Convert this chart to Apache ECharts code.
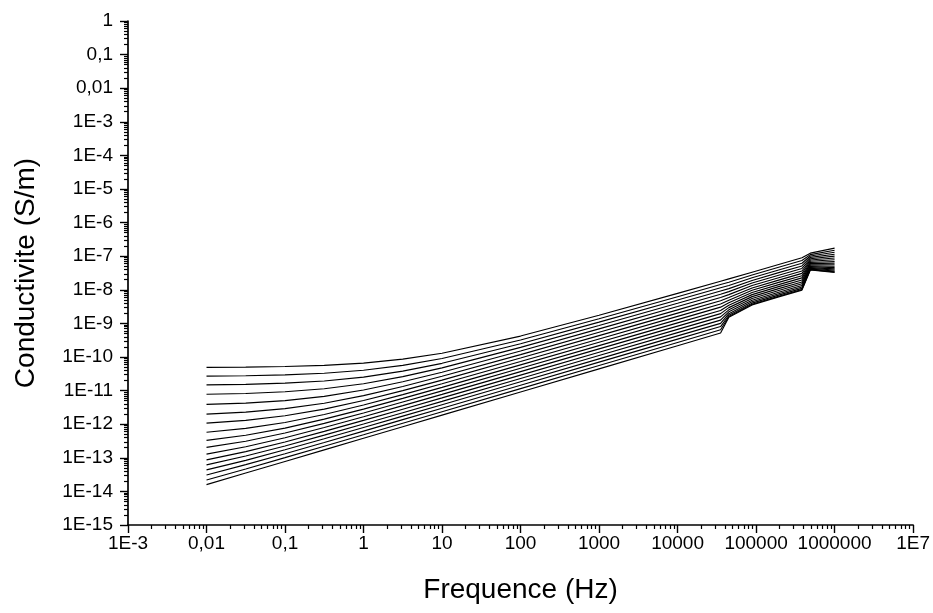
<!DOCTYPE html>
<html>
<head>
<meta charset="utf-8">
<script src="https://cdn.jsdelivr.net/npm/echarts@6/dist/echarts.min.js"></script>
<style>
  html, body { margin: 0; padding: 0; background: #fff; }
  #chart { width: 933px; height: 613px; }
</style>
</head>
<body>
<div id="chart"></div>
<script>
// Frequencies (Hz) at which the curves are read
const frequencies = [0.01, 0.0316, 0.1, 0.316, 1, 3.16, 10, 100, 1000, 10000, 35300, 45000, 89000, 194000, 384000, 491000, 1000000];

// Conductivity curves, stored as log10(S/m), top curve first
const curve01 = [-10.310, -10.301, -10.284, -10.248, -10.181, -10.065, -9.888, -9.377, -8.758, -8.107, -7.747, -7.676, -7.476, -7.247, -7.047, -6.910, -6.760];
const curve02 = [-10.570, -10.558, -10.533, -10.485, -10.395, -10.250, -10.044, -9.494, -8.861, -8.205, -7.844, -7.775, -7.560, -7.330, -7.130, -6.953, -6.822];
const curve03 = [-10.830, -10.813, -10.779, -10.713, -10.598, -10.422, -10.188, -9.606, -8.962, -8.303, -7.940, -7.871, -7.642, -7.411, -7.211, -6.995, -6.883];
const curve04 = [-11.110, -11.085, -11.035, -10.944, -10.796, -10.585, -10.324, -9.715, -9.062, -8.401, -8.036, -7.965, -7.722, -7.490, -7.290, -7.036, -6.942];
const curve05 = [-11.410, -11.371, -11.297, -11.172, -10.983, -10.738, -10.453, -9.822, -9.163, -8.498, -8.133, -8.055, -7.799, -7.566, -7.366, -7.076, -6.999];
const curve06 = [-11.700, -11.642, -11.538, -11.375, -11.149, -10.877, -10.574, -9.928, -9.264, -8.596, -8.229, -8.143, -7.874, -7.640, -7.440, -7.114, -7.054];
const curve07 = [-11.970, -11.888, -11.750, -11.550, -11.294, -11.002, -10.687, -10.031, -9.363, -8.693, -8.325, -8.228, -7.946, -7.711, -7.511, -7.151, -7.107];
const curve08 = [-12.240, -12.126, -11.948, -11.711, -11.429, -11.120, -10.797, -10.134, -9.463, -8.790, -8.421, -8.309, -8.015, -7.780, -7.580, -7.187, -7.158];
const curve09 = [-12.480, -12.330, -12.116, -11.850, -11.551, -11.232, -10.903, -10.235, -9.561, -8.887, -8.517, -8.387, -8.081, -7.845, -7.645, -7.221, -7.207];
const curve10 = [-12.690, -12.506, -12.263, -11.977, -11.665, -11.339, -11.007, -10.335, -9.660, -8.984, -8.614, -8.460, -8.144, -7.907, -7.707, -7.253, -7.254];
const curve11 = [-12.890, -12.672, -12.403, -12.099, -11.778, -11.447, -11.112, -10.436, -9.759, -9.081, -8.709, -8.530, -8.203, -7.966, -7.766, -7.283, -7.298];
const curve12 = [-13.060, -12.816, -12.529, -12.215, -11.887, -11.553, -11.216, -10.538, -9.858, -9.178, -8.805, -8.596, -8.259, -8.021, -7.821, -7.312, -7.339];
const curve13 = [-13.210, -12.947, -12.647, -12.326, -11.995, -11.658, -11.320, -10.639, -9.957, -9.275, -8.901, -8.656, -8.310, -8.072, -7.872, -7.338, -7.377];
const curve14 = [-13.360, -13.075, -12.762, -12.434, -12.099, -11.760, -11.420, -10.738, -10.055, -9.372, -8.998, -8.710, -8.357, -8.118, -7.918, -7.362, -7.411];
const curve15 = [-13.511, -13.204, -12.879, -12.545, -12.206, -11.865, -11.524, -10.839, -10.154, -9.469, -9.094, -8.758, -8.397, -8.158, -7.958, -7.383, -7.441];
const curve16 = [-13.660, -13.332, -12.996, -12.656, -12.314, -11.971, -11.628, -10.941, -10.254, -9.567, -9.191, -8.796, -8.430, -8.190, -7.990, -7.400, -7.465];
const curve17 = [-13.798, -13.454, -13.109, -12.765, -12.420, -12.076, -11.731, -11.042, -10.353, -9.664, -9.286, -8.820, -8.450, -8.210, -8.010, -7.410, -7.480];

const curves = [curve01, curve02, curve03, curve04, curve05, curve06, curve07, curve08, curve09,
                curve10, curve11, curve12, curve13, curve14, curve15, curve16, curve17];

// Tick labels (one per decade, from the axis minimum upward)
const xTickLabels = ['1E-3', '0,01', '0,1', '1', '10', '100', '1000', '10000', '100000', '1000000', '1E7'];
const yTickLabels = ['1E-15', '1E-14', '1E-13', '1E-12', '1E-11', '1E-10', '1E-9', '1E-8', '1E-7', '1E-6', '1E-5', '1E-4', '1E-3', '0,01', '0,1', '1'];
const X_MIN_EXP = -3, X_MAX_EXP = 7;
const Y_MIN_EXP = -15, Y_MAX_EXP = 0;

const xTitle = 'Frequence (Hz)';
const yTitle = 'Conductivite (S/m)';

// minor tick positions (2..9 within each decade)
function minorTicks(lowExp, highExp) {
  const out = [];
  for (let e = lowExp; e < highExp; e++) {
    for (let m = 2; m <= 9; m++) out.push(m * Math.pow(10, e));
  }
  return out;
}
function majorTicks(lowExp, highExp) {
  const out = [];
  for (let e = lowExp; e <= highExp; e++) out.push(Math.pow(10, e));
  return out;
}
const xMinor = minorTicks(X_MIN_EXP, X_MAX_EXP);
const yMinor = minorTicks(Y_MIN_EXP, Y_MAX_EXP);
const xMajor = majorTicks(X_MIN_EXP, X_MAX_EXP);
const yMajor = majorTicks(Y_MIN_EXP, Y_MAX_EXP);

function expOf(v) { return Math.round(Math.log10(v)); }

const FONT = "'Liberation Sans', Arial, sans-serif";
const TICK_FONT = 19;
const TITLE_FONT = 28;

const chart = echarts.init(document.getElementById('chart'), null, { renderer: 'canvas' });

const series = curves.map((c, i) => ({
  name: 'c' + (i + 1),
  type: 'line',
  xAxisIndex: 0,
  yAxisIndex: 0,
  showSymbol: false,
  symbol: 'none',
  smooth: false,
  lineStyle: { color: '#000', width: 1.15 },
  data: frequencies.map((f, k) => [f, Math.pow(10, c[k])]),
  animation: false,
  silent: true
}));

const option = {
  backgroundColor: '#fff',
  animation: false,
  grid: { left: 128, right: 18, top: 21, bottom: 88, containLabel: false },
  xAxis: [
    {
      type: 'log', logBase: 10, min: 0.001, max: 1e7, interval: 1,
      name: xTitle, nameLocation: 'middle', nameGap: 51,
      nameTextStyle: { fontFamily: FONT, fontSize: TITLE_FONT, color: '#000' },
      axisLine: { show: true, lineStyle: { color: '#000', width: 1.7 } },
      axisTick: { show: true, inside: false, length: 8, customValues: xMajor, lineStyle: { color: '#000', width: 1.4 } },
      axisLabel: {
        show: true, margin: 9, color: '#000', fontFamily: FONT, fontSize: TICK_FONT,
        customValues: xMajor,
        formatter: (v) => xTickLabels[expOf(v) - X_MIN_EXP]
      },
      splitLine: { show: false },
      minorTick: { show: false }
    },
    {
      type: 'log', logBase: 10, min: 0.001, max: 1e7, gridIndex: 0, position: 'bottom',
      axisLine: { show: false },
      axisLabel: { show: false },
      splitLine: { show: false },
      axisTick: { show: true, inside: false, length: 4, customValues: xMinor, lineStyle: { color: '#000', width: 1.2 } }
    }
  ],
  yAxis: [
    {
      type: 'log', logBase: 10, min: 1e-15, max: 1, interval: 1,
      name: yTitle, nameLocation: 'middle', nameGap: 88, nameRotate: 90,
      nameTextStyle: { fontFamily: FONT, fontSize: TITLE_FONT, color: '#000' },
      axisLine: { show: true, lineStyle: { color: '#000', width: 1.7 } },
      axisTick: { show: true, inside: false, length: 8, customValues: yMajor, lineStyle: { color: '#000', width: 1.4 } },
      axisLabel: {
        show: true, margin: 15, color: '#000', fontFamily: FONT, fontSize: TICK_FONT,
        customValues: yMajor,
        formatter: (v) => yTickLabels[expOf(v) - Y_MIN_EXP]
      },
      splitLine: { show: false },
      minorTick: { show: false }
    },
    {
      type: 'log', logBase: 10, min: 1e-15, max: 1, gridIndex: 0, position: 'left',
      axisLine: { show: false },
      axisLabel: { show: false },
      splitLine: { show: false },
      axisTick: { show: true, inside: false, length: 4, customValues: yMinor, lineStyle: { color: '#000', width: 1.2 } }
    }
  ],
  series: series
};

chart.setOption(option);
</script>
</body>
</html>
